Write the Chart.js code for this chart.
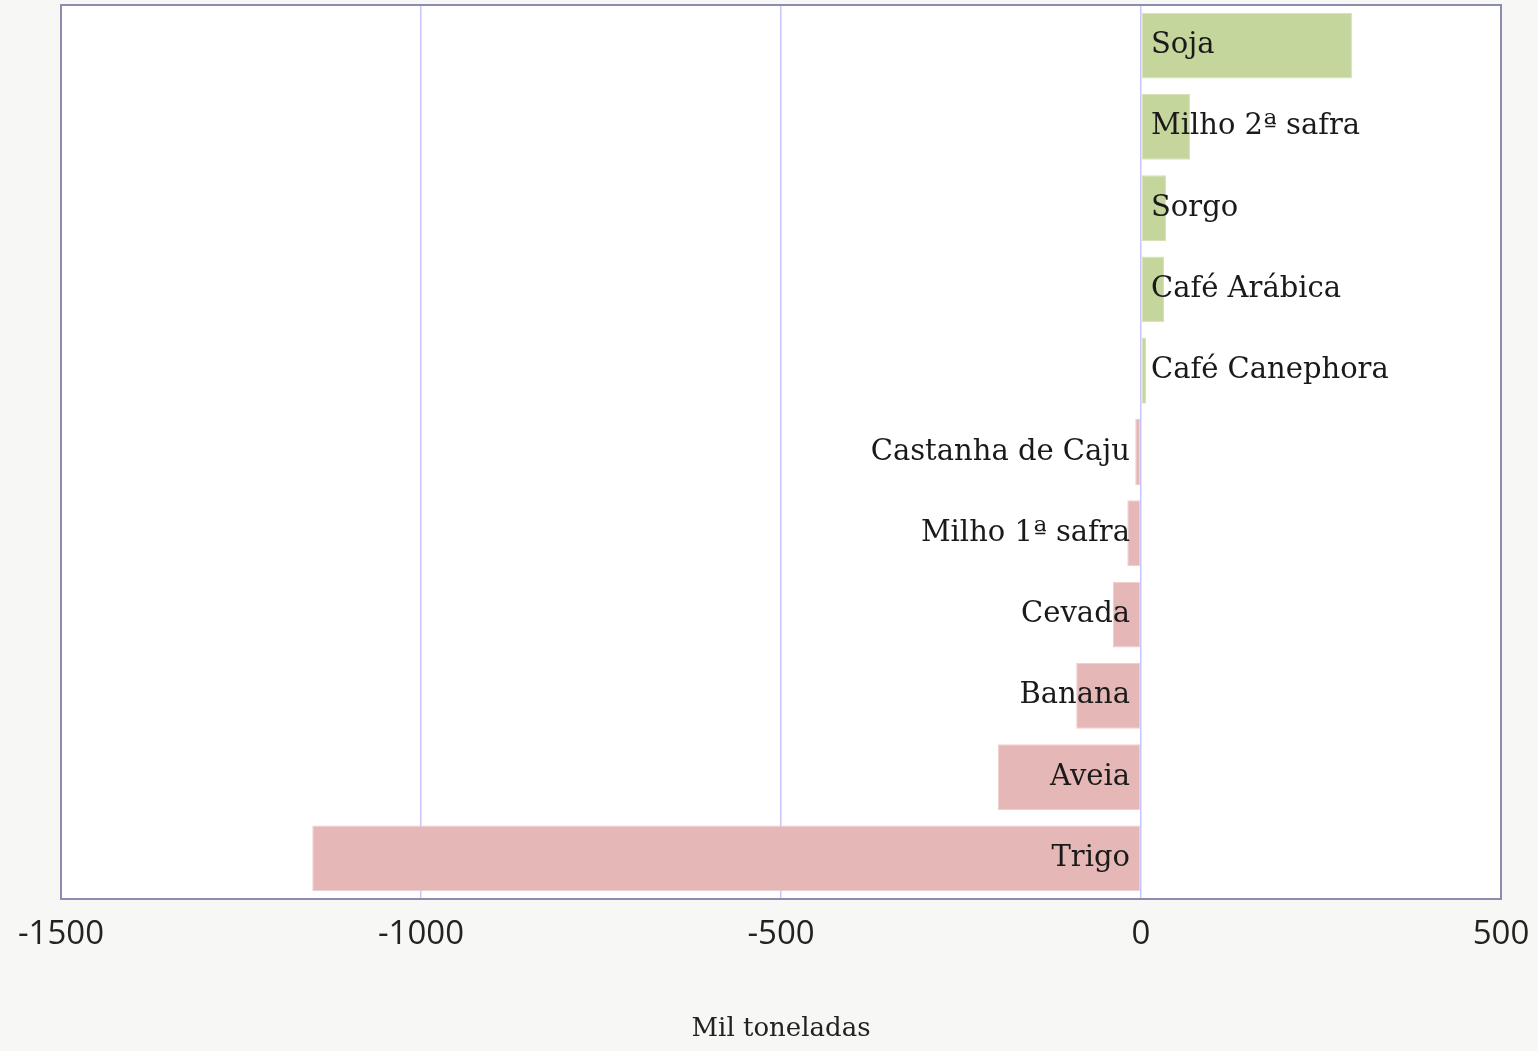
<!DOCTYPE html>
<html><head><meta charset="utf-8">
<script src="https://cdn.jsdelivr.net/npm/chart.js@4.4.0/dist/chart.umd.min.js"></script>
<style>html,body{margin:0;padding:0;background:#f7f8f6;}#wrap{width:1538px;height:1051px;}</style>
</head><body><div id="wrap"><canvas id="c" width="1538" height="1051"></canvas></div>
<script>
const categories = ["Soja","Milho 2ª safra","Sorgo","Café Arábica","Café Canephora","Castanha de Caju","Milho 1ª safra","Cevada","Banana","Aveia","Trigo"];
const values = [293, 68, 35, 32, 7, -8, -19, -39, -90, -199, -1151];
const xTicks = [-1500, -1000, -500, 0, 500];
const axisTitle = "Mil toneladas";

const posColor = "#c5d69c", negColor = "#e5b8b7";
const serif = "'DejaVu Serif', serif";

const plotBg = {
  id: 'plotBg',
  beforeDraw(chart) {
    const {ctx, chartArea: a} = chart;
    ctx.save(); ctx.fillStyle = '#ffffff';
    ctx.fillRect(a.left, a.top, a.right - a.left, a.bottom - a.top);
    ctx.restore();
  },
  afterDraw(chart) {
    const {ctx, chartArea: a} = chart;
    ctx.save(); ctx.strokeStyle = '#8c8cb0'; ctx.lineWidth = 2;
    ctx.strokeRect(a.left, a.top, a.right - a.left, a.bottom - a.top);
    ctx.restore();
  }
};
const labelPlugin = {
  id: 'labels',
  afterDatasetsDraw(chart) {
    const {ctx} = chart;
    const xs = chart.scales.x;
    const x0 = xs.getPixelForValue(0);
    const meta = chart.getDatasetMeta(0);
    ctx.save();
    ctx.font = "29px " + serif;
    ctx.fillStyle = '#1a1a1a';
    ctx.textBaseline = 'middle';
    meta.data.forEach((bar, i) => {
      const v = values[i];
      if (v >= 0) { ctx.textAlign = 'left'; ctx.fillText(categories[i], x0 + 10, bar.y); }
      else { ctx.textAlign = 'right'; ctx.fillText(categories[i], x0 - 11, bar.y); }
    });
    ctx.restore();
  }
};

new Chart(document.getElementById('c'), {
  type: 'bar',
  data: {
    labels: categories,
    datasets: [{
      data: values,
      backgroundColor: values.map(v => v >= 0 ? posColor : negColor),
      borderColor: values.map(v => v >= 0 ? '#d4e2b6' : '#efcdcc'),
      borderWidth: 1,
      borderSkipped: false,
      barPercentage: 0.81,
      categoryPercentage: 1.0
    }]
  },
  options: {
    indexAxis: 'y',
    responsive: false,
    animation: false,
    layout: { autoPadding: false, padding: { left: 61, right: 37, top: 5, bottom: 0 } },
    plugins: { legend: { display: false }, tooltip: { enabled: false } },
    scales: {
      x: {
        min: -1500, max: 500,
        afterBuildTicks(s) { s.ticks = xTicks.map(v => ({ value: v })); },
        afterFit(s) { s.height = 152; s.paddingLeft = 0; s.paddingRight = 0; },
        grid: { color: '#c6c6fc', lineWidth: 1.5, drawTicks: false },
        border: { display: false },
        ticks: { padding: 16, color: '#222', font: { family: "'Open Sans', sans-serif", size: 33 }, maxRotation: 0,
                 callback: (v) => String(v) },
        title: { display: true, text: axisTitle, color: '#222', font: { family: serif, size: 26 }, padding: { top: 0, bottom: 6 } }
      },
      y: { display: false }
    }
  },
  plugins: [plotBg, labelPlugin]
});
</script></body></html>
